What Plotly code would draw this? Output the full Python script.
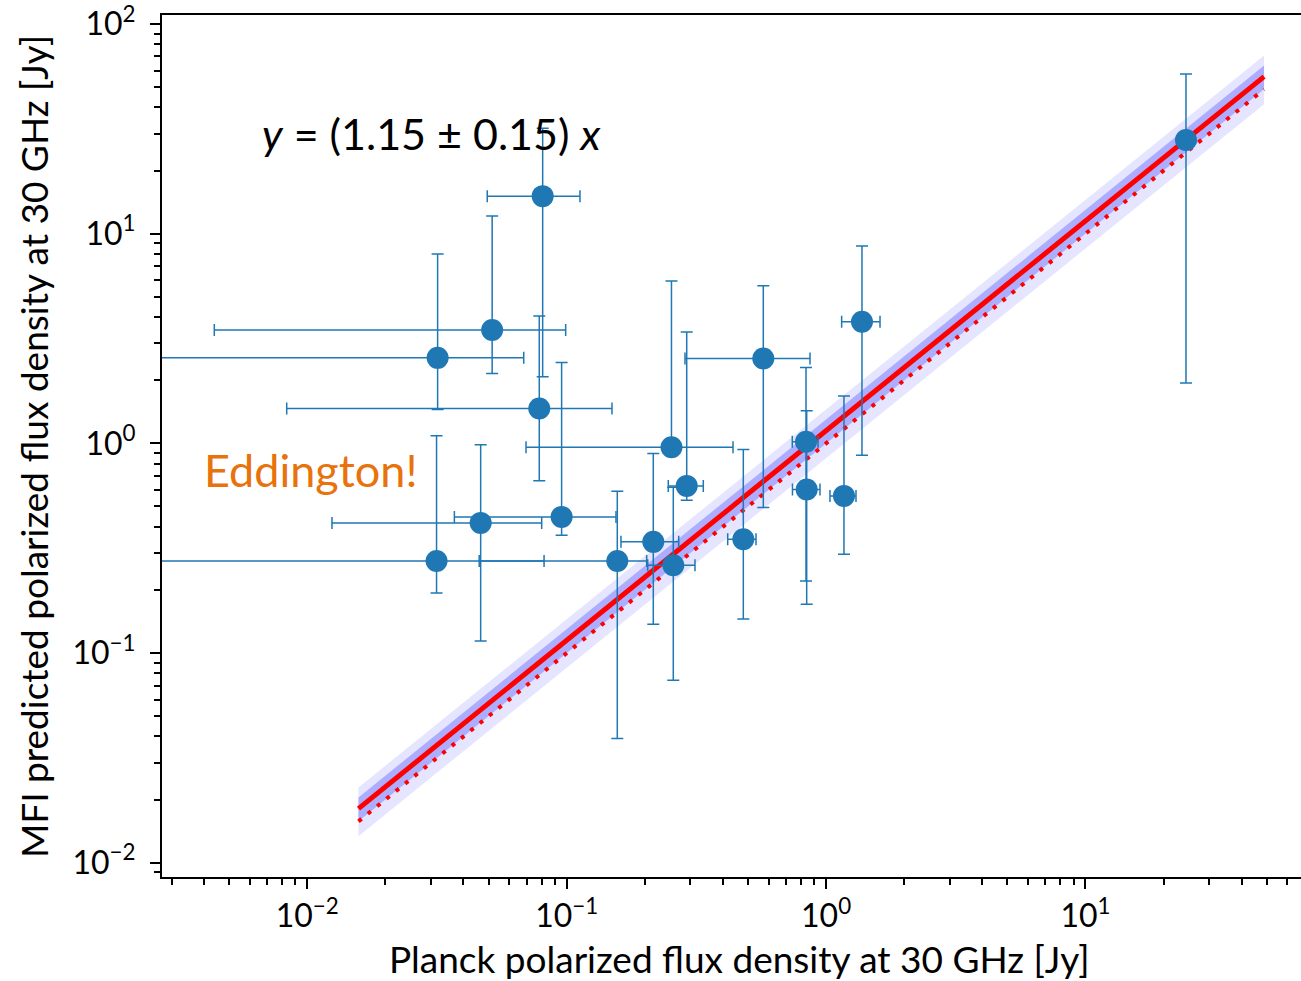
import numpy as np
import plotly.graph_objects as go

# ---------------- data ----------------
planck = np.array([24.4, 0.0808, 0.0516, 0.0318, 0.0784, 0.2535, 0.0466, 0.0956, 0.0315,
                   0.1567, 0.2157, 0.2576, 0.2902, 0.4796, 0.5727, 0.8368, 0.8418, 1.172, 1.375])
mfi = np.array([27.97, 15.1, 3.47, 2.557, 1.467, 0.959, 0.4175, 0.4459, 0.275,
                0.275, 0.339, 0.2624, 0.6268, 0.349, 2.541, 1.017, 0.6027, 0.5616, 3.80])
planck_lo = np.array([24.4, 0.0494, 0.00438, 0.002, 0.00833, 0.0697, 0.01245, 0.0369, 0.002,
                      0.046, 0.1619, 0.2053, 0.2464, 0.4175, 0.2858, 0.7408, 0.742, 1.035, 1.148])
planck_hi = np.array([24.4, 0.1125, 0.0991, 0.0683, 0.1495, 0.4377, 0.0801, 0.1549, 0.0818,
                      0.2034, 0.2703, 0.3123, 0.3362, 0.5368, 0.867, 0.931, 0.9473, 1.304, 1.614])
mfi_lo = np.array([1.94, 2.08, 2.156, 1.451, 0.6625, 0.878, 0.1142, 0.3648, 0.1935,
                   0.0391, 0.1372, 0.0742, 0.5358, 0.1455, 0.4946, 0.2208, 0.1709, 0.296, 0.878])
mfi_hi = np.array([57.7, 31.8, 12.13, 7.99, 4.045, 5.94, 0.9836, 2.432, 1.086,
                   0.5915, 0.895, 0.618, 3.393, 0.935, 5.64, 2.302, 1.429, 1.68, 8.73])

slope = 1.15
slope_err = 0.15

major_vals_x = [0.01, 0.1, 1, 10]
major_text_x = ["10<sup>−2</sup>", "10<sup>−1</sup>", "10<sup>0</sup>", "10<sup>1</sup>"]
major_vals_y = [0.01, 0.1, 1, 10, 100]
major_text_y = ["10<sup>−2</sup>", "10<sup>−1</sup>", "10<sup>0</sup>", "10<sup>1</sup>", "10<sup>2</sup>"]

x_title = "Planck polarized flux density at 30 GHz [Jy]"
y_title = "MFI predicted polarized flux density at 30 GHz [Jy]"
fit_label = "<i>y</i> = (1.15 ± 0.15) <i>x</i>"
note_label = "Eddington!"

# ---------------- layout geometry ----------------
W, H = 1301, 981
L, R, T, B = 162, 1301, 15, 877
xr = [-2.5601, 1.8308]
yr = [-2.0682, 2.0429]


def paper(px, py):
    return (px - L) / (R - L), (B - py) / (B - T)


minor = [k * 10.0 ** e for e in range(-4, 3) for k in range(2, 10)]

blue = "#1f77b4"
fx = np.array([planck.min() / 2, planck.max() * 2])

fig = go.Figure()
# 2-sigma band
fig.add_trace(go.Scatter(
    x=np.concatenate([fx, fx[::-1]]),
    y=np.concatenate([fx * (slope + 2 * slope_err), fx[::-1] * (slope - 2 * slope_err)]),
    fill="toself", fillcolor="rgb(229,229,255)", line=dict(width=0), mode="lines",
    hoverinfo="skip", showlegend=False))
# 1-sigma band
fig.add_trace(go.Scatter(
    x=np.concatenate([fx, fx[::-1]]),
    y=np.concatenate([fx * (slope + slope_err), fx[::-1] * (slope - slope_err)]),
    fill="toself", fillcolor="rgb(173,173,255)", line=dict(width=0), mode="lines",
    hoverinfo="skip", showlegend=False))
# one-to-one dotted
fig.add_trace(go.Scatter(x=fx, y=fx, mode="lines",
                         line=dict(color="red", width=4, dash="4px,8px"), showlegend=False))
# fit
fig.add_trace(go.Scatter(x=fx, y=slope * fx, mode="lines",
                         line=dict(color="red", width=5), showlegend=False))
# points
fig.add_trace(go.Scatter(
    x=planck, y=mfi, mode="markers",
    marker=dict(size=22, color=blue, line=dict(width=0)),
    error_x=dict(type="data", symmetric=False, array=planck_hi - planck,
                 arrayminus=planck - planck_lo, color=blue, thickness=1.5, width=6),
    error_y=dict(type="data", symmetric=False, array=mfi_hi - mfi,
                 arrayminus=mfi - mfi_lo, color=blue, thickness=1.5, width=6),
    showlegend=False))

tickfont = dict(family="Lato", size=32, color="black")
common = dict(type="log", showline=True, linecolor="black", linewidth=2,
              ticks="outside", ticklen=10, tickwidth=2, tickcolor="black",
              showgrid=False, zeroline=False, tickfont=tickfont, tickmode="array",
              ticklabeloverflow="allow")
fig.update_xaxes(range=xr, mirror=True, tickvals=major_vals_x, ticktext=major_text_x,
                 minor=dict(tickmode="array", tickvals=minor, ticks="outside", ticklen=6,
                            tickwidth=1.5, tickcolor="black", showgrid=False),
                 **common)
fig.update_yaxes(range=yr, mirror=False, tickvals=major_vals_y, ticktext=major_text_y,
                 ticklabelstandoff=8,
                 minor=dict(tickmode="array", tickvals=minor, ticks="outside", ticklen=6,
                            tickwidth=1.5, tickcolor="black", showgrid=False),
                 **common)

annots = []
ax_, ay_ = paper(739, 958)
annots.append(dict(text=x_title, x=ax_, y=ay_, xref="paper", yref="paper", showarrow=False,
                   xanchor="center", yanchor="middle",
                   font=dict(family="Lato", size=37, color="black")))
ax_, ay_ = paper(33, 447)
annots.append(dict(text=y_title, x=ax_, y=ay_, xref="paper", yref="paper", showarrow=False,
                   xanchor="center", yanchor="middle", textangle=-90,
                   font=dict(family="Lato", size=37, color="black")))
ax_, ay_ = paper(431, 134)
annots.append(dict(text=fit_label, x=ax_, y=ay_, xref="paper", yref="paper", showarrow=False,
                   xanchor="center", yanchor="middle",
                   font=dict(family="Lato", size=43, color="black")))
ax_, ay_ = paper(311, 470)
annots.append(dict(text=note_label, x=ax_, y=ay_, xref="paper", yref="paper", showarrow=False,
                   xanchor="center", yanchor="middle",
                   font=dict(family="Lato", size=45, color="#e8720c")))

fig.update_layout(width=W, height=H, margin=dict(l=L, r=W - R, t=T, b=H - B),
                  paper_bgcolor="white", plot_bgcolor="white", showlegend=False,
                  annotations=annots)

fig.write_html("out.html")
